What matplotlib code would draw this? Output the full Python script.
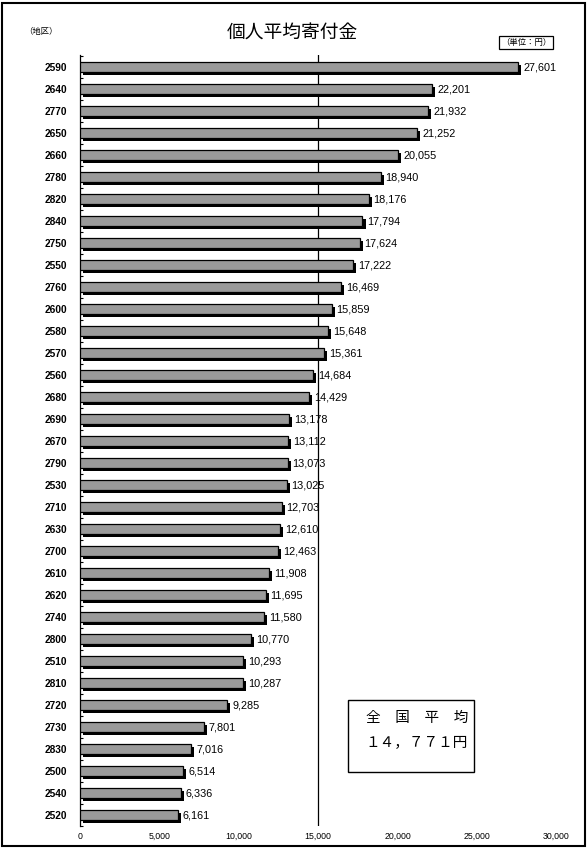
import numpy as np
import matplotlib.pyplot as plt
import matplotlib.patheffects as pe
from matplotlib.patches import Rectangle
from matplotlib.ticker import FuncFormatter

# フォント設定（数字は Liberation Sans、日本語は Noto Sans CJK JP）
plt.rcParams['font.family'] = ['Liberation Sans', 'Noto Sans CJK JP']

# 地区と個人平均寄付金（円）
districts = ['2590', '2640', '2770', '2650', '2660', '2780', '2820', '2840', '2750', '2550',
             '2760', '2600', '2580', '2570', '2560', '2680', '2690', '2670', '2790', '2530',
             '2710', '2630', '2700', '2610', '2620', '2740', '2800', '2510', '2810', '2720',
             '2730', '2830', '2500', '2540', '2520']
amounts = [27601, 22201, 21932, 21252, 20055, 18940, 18176, 17794, 17624, 17222,
           16469, 15859, 15648, 15361, 14684, 14429, 13178, 13112, 13073, 13025,
           12703, 12610, 12463, 11908, 11695, 11580, 10770, 10293, 10287, 9285,
           7801, 7016, 6514, 6336, 6161]
national_avg_text = '１４，７７１円'
ref_line = 15000
x_ticks = [0, 5000, 10000, 15000, 20000, 25000, 30000]

fig = plt.figure(figsize=(5.88, 8.49), dpi=100)
ax = fig.add_axes([0.136, 0.027, 0.81, 0.908])

y = np.arange(len(districts))
bars = ax.barh(y, amounts, height=0.44, color='#9a9a9a', edgecolor='black', linewidth=0.9, zorder=3)
for b in bars:
    b.set_path_effects([pe.SimplePatchShadow(offset=(2.2, -2.0), shadow_rgbFace='black', alpha=1.0),
                        pe.Normal()])

ax.bar_label(bars, labels=[f'{v:,}' for v in amounts], padding=3.5, fontsize=7.8)

# 基準線
ax.axvline(ref_line, color='black', linewidth=0.9, zorder=2)

ax.set_xlim(0, 30000)
ax.set_ylim(34.45, -0.55)
ax.set_yticks(y)
ax.set_yticklabels(districts, fontsize=7.3, fontweight='bold')
ax.set_yticks(np.arange(-0.5, len(districts), 1), minor=True)
ax.tick_params(axis='y', which='major', length=0, pad=9)
ax.tick_params(axis='y', which='minor', direction='in', length=2.5, width=0.8)
ax.set_xticks(x_ticks)
ax.xaxis.set_major_formatter(FuncFormatter(lambda v, p: f'{int(v):,}'))
ax.tick_params(axis='x', length=0, labelsize=6.3, pad=4)
for s in ['top', 'right', 'bottom']:
    ax.spines[s].set_visible(False)
ax.spines['left'].set_linewidth(0.9)

# タイトル・注記
fig.text(0.497, 0.962, '個人平均寄付金', ha='center', va='center', fontsize=13.5,
         family='Noto Sans CJK JP')
fig.text(0.042, 0.963, '（地区）', ha='left', va='center', fontsize=6,
         family='Noto Sans CJK JP')
fig.text(0.895, 0.950, '（単位：円）', ha='center', va='center', fontsize=6,
         family='Noto Sans CJK JP',
         bbox=dict(boxstyle='square,pad=0.25', facecolor='white', edgecolor='black', linewidth=0.9))

# 全国平均の枠
fig.patches.append(Rectangle((0.592, 0.091), 0.214, 0.085, transform=fig.transFigure,
                             facecolor='white', edgecolor='black', linewidth=1.0, zorder=5))
fig.text(0.622, 0.154, '全　国　平　均', ha='left', va='center', fontsize=10.5,
         family='Noto Sans CJK JP', zorder=6)
fig.text(0.622, 0.126, national_avg_text, ha='left', va='center', fontsize=10.5,
         family='Noto Sans CJK JP', zorder=6)

# 外枠
fig.patches.append(Rectangle((0.004, 0.003), 0.991, 0.993, transform=fig.transFigure,
                             fill=False, edgecolor='black', linewidth=1.5))

fig.savefig('out.png', dpi=100)
